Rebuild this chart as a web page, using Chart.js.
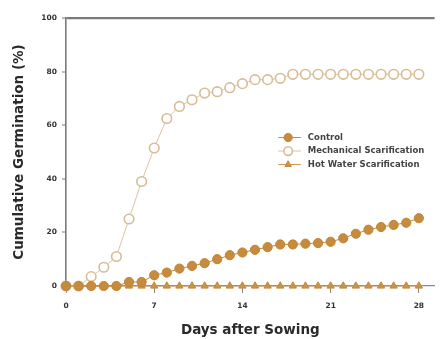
<!DOCTYPE html>
<html>
<head>
<meta charset="utf-8">
<script src="https://cdn.jsdelivr.net/npm/chart.js@4.4.1/dist/chart.umd.min.js"></script>
<style>
  html, body { margin: 0; padding: 0; background: #ffffff; }
  #wrap { width: 441px; height: 339px; }
</style>
</head>
<body>
<div id="wrap"><canvas id="c" width="441" height="339"></canvas></div>
<script>
const days = [0,1,2,3,4,5,6,7,8,9,10,11,12,13,14,15,16,17,18,19,20,21,22,23,24,25,26,27,28];
const control = [0,0,0,0,0,1.5,1.5,4,5,6.5,7.5,8.5,10,11.5,12.5,13.5,14.5,15.5,15.5,15.8,16,16.5,17.8,19.5,21,22,22.8,23.6,25.3];
const mechanical = [0,0,3.5,7,11,25,39,51.5,62.5,67,69.5,72,72.5,74,75.5,77,77,77.5,79,79,79,79,79,79,79,79,79,79,79];
const hotWater = [0,0,0,0,0,0,0,0,0,0,0,0,0,0,0,0,0,0,0,0,0,0,0,0,0,0,0,0,0];
const seriesNames = ["Control", "Mechanical Scarification", "Hot Water Scarification"];
const xTicks = [0,7,14,21,28];
const yTicks = [0,20,40,60,80,100];
const xTitle = "Days after Sowing";
const yTitle = "Cumulative Germination (%)";

const FONT = '"DejaVu Sans", "Liberation Sans", Arial, sans-serif';
const toPts = arr => arr.map((v, i) => ({x: days[i], y: v}));

const legendPlugin = {
  id: 'insideLegend',
  afterDatasetsDraw(chart) {
    const ctx = chart.ctx;
    const a = chart.chartArea;
    const w = a.right - a.left, h = a.bottom - a.top;
    const mx = a.left + w * 0.6027, lx0 = a.left + w * 0.576, lx1 = a.left + w * 0.637, tx = a.left + w * 0.656;
    const y0 = a.top + h * 0.446, dy = h * 0.0504;
    ctx.save();
    chart.data.datasets.forEach((ds, i) => {
      const y = y0 + i * dy;
      ctx.strokeStyle = ds.borderColor;
      ctx.lineWidth = 1;
      ctx.beginPath(); ctx.moveTo(lx0, y); ctx.lineTo(lx1, y); ctx.stroke();
      ctx.fillStyle = ds.pointBackgroundColor;
      ctx.strokeStyle = ds.pointBorderColor;
      ctx.lineWidth = ds.pointBorderWidth;
      Chart.helpers.drawPoint(ctx, {pointStyle: ds.pointStyle, radius: ds.pointRadius * 0.9, rotation: 0, borderWidth: ds.pointBorderWidth}, mx, y);
      ctx.fillStyle = '#444';
      ctx.font = 'bold 8.5px ' + FONT;
      ctx.textBaseline = 'middle';
      ctx.textAlign = 'left';
      ctx.fillText(ds.label, tx, y);
    });
    ctx.restore();
  }
};

new Chart(document.getElementById('c'), {
  type: 'line',
  data: {
    datasets: [
      {
        label: seriesNames[0], data: toPts(control),
        borderColor: '#c68b3c', backgroundColor: '#c68b3c',
        pointBackgroundColor: '#c68b3c', pointBorderColor: '#c08434',
        pointStyle: 'circle', pointRadius: 4.6, pointBorderWidth: 1,
        borderWidth: 1, clip: false
      },
      {
        label: seriesNames[1], data: toPts(mechanical),
        borderColor: '#dcc4a2', backgroundColor: '#ffffff',
        pointBackgroundColor: '#ffffff', pointBorderColor: '#d8bc94',
        pointStyle: 'circle', pointRadius: 4.8, pointBorderWidth: 1.6,
        borderWidth: 1, clip: false
      },
      {
        label: seriesNames[2], data: toPts(hotWater),
        borderColor: '#c99448', backgroundColor: '#c99448',
        pointBackgroundColor: '#c99448', pointBorderColor: '#c08a3c',
        pointStyle: 'triangle', pointRadius: 4.2, pointBorderWidth: 1,
        borderWidth: 1, clip: false
      }
    ]
  },
  options: {
    responsive: false,
    animation: false,
    layout: { padding: { top: 18, right: 0, left: 0, bottom: 0 } },
    plugins: { legend: { display: false }, tooltip: { enabled: false } },
    scales: {
      x: {
        type: 'linear', min: 0, max: 29.25,
        afterBuildTicks: s => { s.ticks = xTicks.map(v => ({value: v})); },
        afterFit: s => { s.height = 53; },
        border: { display: true, color: '#8a8a8a', width: 1.2 },
        grid: { display: true, drawOnChartArea: false, drawTicks: true, tickLength: 7, tickColor: '#8a8a8a', tickWidth: 1 },
        ticks: { color: '#333', font: { family: FONT, size: 7.5, weight: 'bold' }, padding: 9, maxRotation: 0 },
        title: { display: true, text: xTitle, color: '#2a2a2a', font: { family: FONT, size: 13.5, weight: 'bold' }, padding: { top: 4, bottom: 0 } }
      },
      y: {
        min: 0, max: 100,
        afterBuildTicks: s => { s.ticks = yTicks.map(v => ({value: v})); },
        afterFit: s => { s.width = 66; },
        border: { display: true, color: '#7a7a7a', width: 1.6 },
        grid: {
          display: true, drawOnChartArea: true, drawTicks: true, tickLength: 4,
          color: c => (c.tick && c.tick.value === 100) ? '#7a7a7a' : 'rgba(0,0,0,0)',
          lineWidth: c => (c.tick && c.tick.value === 100) ? 2.2 : 0,
          tickColor: '#7a7a7a', tickWidth: 1
        },
        ticks: { color: '#333', font: { family: FONT, size: 7.5, weight: 'bold' }, padding: 5 },
        title: { display: true, text: yTitle, color: '#2a2a2a', font: { family: FONT, size: 13.5, weight: 'bold' }, padding: { top: 11, bottom: 0 } }
      }
    }
  },
  plugins: [legendPlugin]
});
</script>
</body>
</html>
